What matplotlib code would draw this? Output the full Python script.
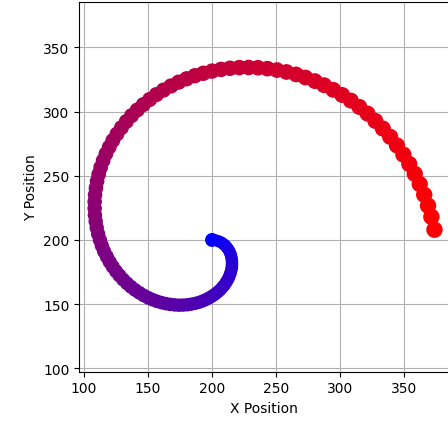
import matplotlib
matplotlib.use("Agg")
import matplotlib.pyplot as plt
import numpy as np

x_pos = [200.0, 201.5, 202.9, 204.3, 205.7, 207.1, 208.3, 209.6, 210.7, 211.7,
         212.7, 213.5, 214.2, 214.8, 215.2, 215.5, 215.6, 215.6, 215.5, 215.1,
         214.6, 213.9, 213.1, 212.0, 210.8, 209.5, 207.9, 206.2, 204.3, 202.2,
         200.0, 197.6, 195.1, 192.5, 189.7, 186.8, 183.7, 180.6, 177.4, 174.1,
         170.8, 167.4, 163.9, 160.5, 157.0, 153.5, 150.1, 146.6, 143.3, 140.0,
         136.7, 133.6, 130.6, 127.7, 125.0, 122.4, 120.0, 117.8, 115.7, 113.9,
         112.4, 111.0, 109.9, 109.1, 108.5, 108.3, 108.3, 108.6, 109.3, 110.2,
         111.4, 113.0, 114.9, 117.1, 119.7, 122.5, 125.7, 129.2, 133.0, 137.1,
         141.6, 146.3, 151.3, 156.5, 162.1, 167.9, 173.9, 180.1, 186.6, 193.2,
         200.0, 207.0, 214.0, 221.3, 228.6, 235.9, 243.3, 250.8, 258.2, 265.7,
         273.0, 280.4, 287.6, 294.7, 301.7, 308.5, 315.1, 321.5, 327.6, 333.5,
         339.2, 344.5, 349.5, 354.1, 358.4, 362.3, 365.8, 368.8, 371.4, 373.8]
y_pos = [200.0, 199.9, 199.7, 199.3, 198.8, 198.1, 197.3, 196.3, 195.3, 194.0,
         192.7, 191.3, 189.7, 188.1, 186.3, 184.5, 182.6, 180.7, 178.7, 176.7,
         174.7, 172.7, 170.6, 168.6, 166.7, 164.7, 162.9, 161.0, 159.3, 157.7,
         156.2, 154.8, 153.5, 152.4, 151.4, 150.6, 150.0, 149.5, 149.3, 149.2,
         149.4, 149.8, 150.4, 151.2, 152.2, 153.5, 155.0, 156.8, 158.8, 161.0,
         163.5, 166.2, 169.1, 172.3, 175.6, 179.2, 183.0, 187.0, 191.1, 195.5,
         200.0, 204.7, 209.5, 214.4, 219.4, 224.6, 229.8, 235.1, 240.4, 245.8,
         251.1, 256.5, 261.8, 267.1, 272.3, 277.5, 282.5, 287.4, 292.2, 296.8,
         301.2, 305.4, 309.4, 313.2, 316.7, 319.9, 322.9, 325.5, 327.9, 329.8,
         331.5, 332.8, 333.7, 334.2, 334.3, 334.1, 333.4, 332.3, 330.8, 328.9,
         326.5, 323.7, 320.5, 316.9, 312.9, 308.5, 303.6, 298.4, 292.7, 286.7,
         280.3, 273.6, 266.5, 259.2, 251.5, 243.5, 235.2, 226.7, 218.0, 208.0]

n = len(x_pos)
t = np.linspace(0, 1, n)
colors = [(ti, 0.0, 1.0 - ti) for ti in t]
sizes = np.linspace(55, 117, n)
sizes[0] = 81

fig = plt.figure(figsize=(4.48, 4.27), dpi=100)
ax = fig.add_axes([79.3 / 448, (427 - 372.7) / 427, 370 / 448, 369.7 / 427])
ax.scatter(x_pos, y_pos, c=colors, s=sizes, zorder=3)
ax.set_xlim(96.3, 385.4)
ax.set_ylim(97.4, 385.3)
ax.set_xticks([100, 150, 200, 250, 300, 350])
ax.set_yticks([100, 150, 200, 250, 300, 350])
ax.grid(True)
ax.set_axisbelow(True)
ax.set_xlabel("X Position")
ax.set_ylabel("Y Position")
fig.savefig("out.png", dpi=100)
